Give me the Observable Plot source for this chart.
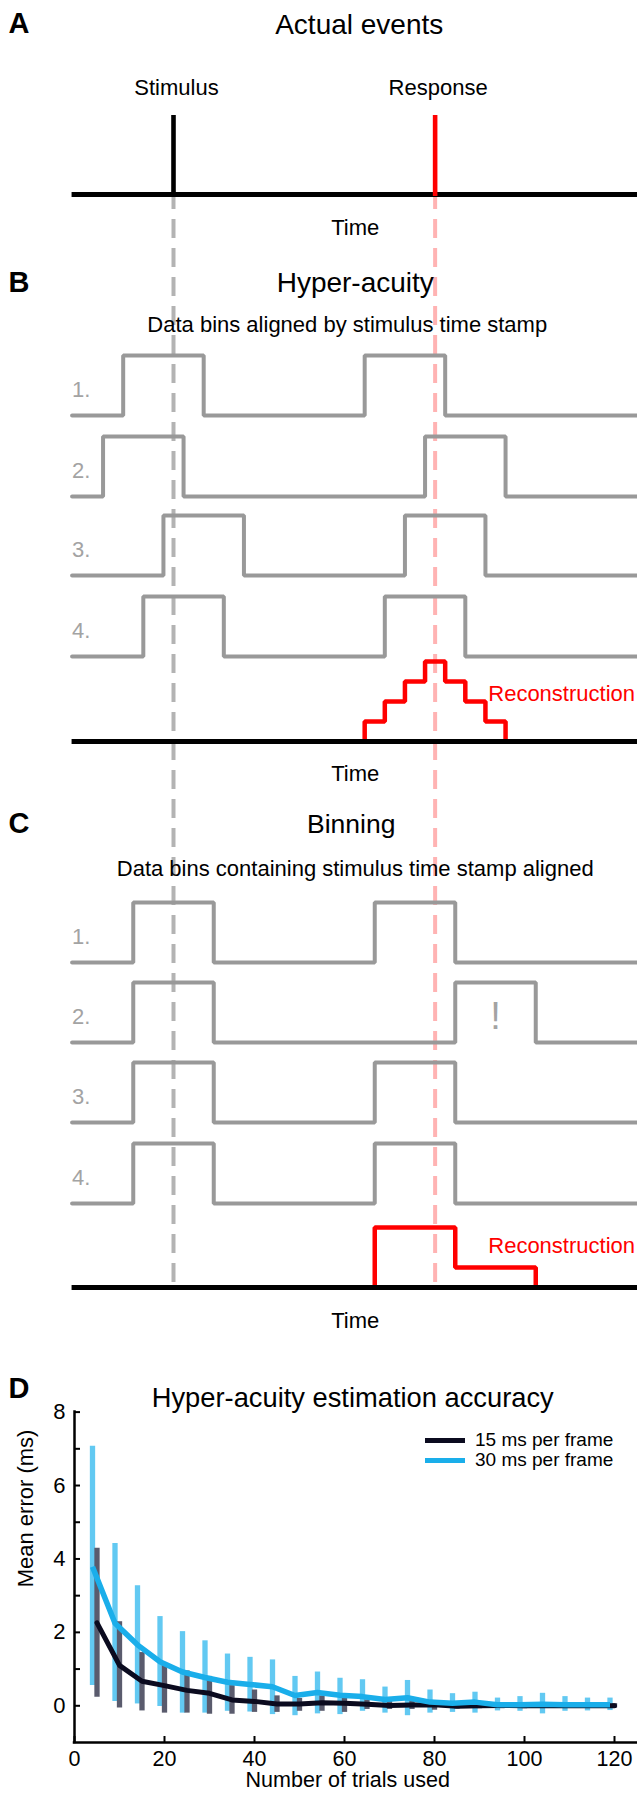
<!DOCTYPE html>
<html><head><meta charset="utf-8">
<script src="https://cdn.jsdelivr.net/npm/d3@7"></script>
<script src="https://cdn.jsdelivr.net/npm/@observablehq/plot@0.6"></script>
<style>
body{margin:0;background:#fff;}
#fig{position:relative;width:637px;height:1793px;overflow:hidden;font-family:"Liberation Sans",Arial,Helvetica,sans-serif;background:#fff;}
#fig svg{display:block;}
#topPanel{position:absolute;left:0;top:0;}
#bottomPanel{position:absolute;left:0;top:1330px;}
#legend{position:absolute;left:425px;top:1430px;font-size:19px;color:#000;}
.lrow{display:flex;align-items:center;height:20px;line-height:20px;white-space:nowrap;}
.sw{display:inline-block;width:40px;height:5px;margin-right:10px;}
</style></head>
<body><div id="fig"><div id="topPanel"></div><div id="bottomPanel"></div><div id="legend"></div></div>
<script>
// ================= DATA =================
// Panels A-C (time in frames, stimulus time stamp = 0)
const eventNames = ["Stimulus", "Response"];
const eventTimes = [0, 3.25];
const timeExtent = [-1.26, 5.8];
const trialLabels = ["1.", "2.", "3.", "4."];
// high data bins [start, end] per trial
const hyperBins = [
  [[-0.625, 0.375], [2.375, 3.375]],
  [[-0.875, 0.125], [3.125, 4.125]],
  [[-0.125, 0.875], [2.875, 3.875]],
  [[-0.375, 0.625], [2.625, 3.625]]
];
const binningBins = [
  [[-0.5, 0.5], [2.5, 3.5]],
  [[-0.5, 0.5], [3.5, 4.5]],
  [[-0.5, 0.5], [2.5, 3.5]],
  [[-0.5, 0.5], [2.5, 3.5]]
];
const hyperReconT     = [2.375, 2.375, 2.625, 2.875, 3.125, 3.375, 3.625, 3.875, 4.125];
const hyperReconCount = [0, 1, 2, 3, 4, 3, 2, 1, 0];
const binReconT       = [2.5, 2.5, 3.5, 4.5];
const binReconCount   = [0, 3, 1, 0];
const panelLetters = ["A", "B", "C", "D"];
const panelTitles = ["Actual events", "Hyper-acuity", "Binning", "Hyper-acuity estimation accuracy"];
const panelSubtitles = ["Data bins aligned by stimulus time stamp", "Data bins containing stimulus time stamp aligned"];
const timeLabel = "Time";
const reconLabel = "Reconstruction";
const warnLabel = "!";

// Panel D
const trials = [5,10,15,20,25,30,35,40,45,50,55,60,65,70,75,80,85,90,95,100,105,110,115,120];
const mean15 = [2.26,1.10,0.67,0.55,0.42,0.34,0.16,0.12,0.05,0.05,0.08,0.07,0.04,0.01,0.02,0.03,-0.01,0.00,0.01,0.00,0.00,0.00,0.00,0.00];
const lo15   = [0.23,-0.06,-0.14,-0.20,-0.20,-0.23,-0.23,-0.18,-0.18,-0.15,-0.15,-0.18,-0.10,-0.10,-0.10,-0.12,-0.09,-0.08,-0.08,-0.08,-0.07,-0.07,-0.06,-0.06];
const hi15   = [4.29,2.29,1.45,1.15,0.95,0.80,0.55,0.43,0.27,0.20,0.27,0.20,0.16,0.12,0.12,0.12,0.08,0.08,0.08,0.07,0.07,0.06,0.06,0.06];
const mean30 = [3.79,2.25,1.66,1.20,0.92,0.77,0.64,0.58,0.52,0.28,0.36,0.29,0.25,0.17,0.22,0.10,0.07,0.10,0.03,0.03,0.04,0.03,0.03,0.03];
const lo30   = [0.55,0.12,0.05,-0.02,-0.20,-0.20,-0.15,-0.17,-0.24,-0.27,-0.22,-0.24,-0.15,-0.20,-0.27,-0.20,-0.18,-0.20,-0.14,-0.15,-0.22,-0.15,-0.14,-0.13];
const hi30   = [7.07,4.42,3.27,2.43,2.02,1.77,1.41,1.32,1.25,0.80,0.92,0.75,0.71,0.51,0.69,0.43,0.33,0.37,0.21,0.25,0.34,0.25,0.21,0.21];
const seriesNames = ["15 ms per frame", "30 ms per frame"];
const xTicks = [0,20,40,60,80,100,120];
const yTicks = [0,2,4,6,8];
const yTickMarks = [0,1,2,3,4,5,6,7,8];
const xLabel = "Number of trials used";
const yLabel = "Mean error (ms)";

// ================= LAYOUT / STYLE =================
const FONT = '"Liberation Sans", Arial, Helvetica, sans-serif';
const W = 637, H1 = 1345, H2 = 463;
const STIM_PX = 173, BIN_PX = 80.5;
const L = {
  aAxis: 194, markerTop: 115, dashTop: 190, dashBottom: 1287,
  bRows: [415, 496, 575, 656], bRecon: 741,
  cRows: [962, 1042, 1122, 1203], cRecon: 1287,
  amp: 60, step: 20,
  letterY: [23, 282, 823],
  titleY: [25, 283, 824], titleDx: [3, -1, -5], titleSize: [28, 28, 26.5],
  subY: [324, 868], subDx: [-9, -1],
  eventY: 87.5, timeY: [227.5, 773, 1320],
  reconY: [693, 1245.5], reconT: 3.91, warnT: 4.0, warnY: 1016
};
const GRAY = "#999999", LABELGRAY = "#a3a3a3";
const DASH = ["#b3b3b3", "#ffb3b3"];
const MARK = ["#000000", "#ff0000"];
const C15 = "#0b0b1f", C15BAR = "#5a5b6d", C30 = "#1aaeea", C30BAR = "#62c9f2";
const offset30 = -1; // horizontal jitter of the 30 ms series

// ================= PANELS A-C =================
const tMid = (timeExtent[0] + timeExtent[1]) / 2;
function wave(bins, base, id) {
  const pts = [{t: timeExtent[0], y: base, id}];
  for (const [on, off] of bins) {
    pts.push({t: on, y: base - L.amp, id});
    pts.push({t: off, y: base, id});
  }
  pts.push({t: timeExtent[1], y: base, id});
  return pts;
}
const rowData = [
  ...hyperBins.flatMap((b, i) => wave(b, L.bRows[i], "B" + i)),
  ...binningBins.flatMap((b, i) => wave(b, L.cRows[i], "C" + i))
];
const reconData = [
  ...hyperReconT.map((t, i) => ({t, y: L.bRecon - hyperReconCount[i] * L.step, id: "B"})),
  ...binReconT.map((t, i) => ({t, y: L.cRecon - binReconCount[i] * L.step, id: "C"}))
];
const rowLabelData = [
  ...trialLabels.map((s, i) => ({s, y: L.bRows[i] - 26})),
  ...trialLabels.map((s, i) => ({s, y: L.cRows[i] - 26}))
];
const titleData = panelTitles.slice(0, 3).map((s, i) => ({s, y: L.titleY[i], dx: L.titleDx[i], size: L.titleSize[i]}));

const topPlot = Plot.plot({
  width: W, height: H1, margin: 0,
  x: {domain: [-STIM_PX / BIN_PX, (W - STIM_PX) / BIN_PX], axis: null},
  y: {domain: [0, H1], range: [0, H1], axis: null},
  style: {fontFamily: FONT, fontSize: "22px", background: "none", color: "black", overflow: "visible"},
  marks: [
    ...eventTimes.map((t, i) => Plot.ruleX([t], {y1: L.dashTop, y2: L.dashBottom, stroke: DASH[i], strokeWidth: 4, strokeDasharray: "19,10"})),
    Plot.line(rowData, {x: "t", y: "y", z: "id", curve: "step-after", stroke: GRAY, strokeWidth: 4, strokeLinejoin: "miter"}),
    Plot.line(reconData, {x: "t", y: "y", z: "id", curve: "step-after", stroke: "#ff0000", strokeWidth: 4.5, strokeLinejoin: "miter"}),
    Plot.ruleY([L.aAxis, L.bRecon, L.cRecon], {x1: timeExtent[0], x2: timeExtent[1], stroke: "black", strokeWidth: 5}),
    ...eventTimes.map((t, i) => Plot.ruleX([t], {y1: L.markerTop, y2: L.aAxis + 2, stroke: MARK[i], strokeWidth: 4.6})),
    Plot.text(eventNames, {x: (d, i) => eventTimes[i], y: L.eventY, text: d => d, dx: 3, fontSize: 22}),
    Plot.text(panelLetters.slice(0, 3), {frameAnchor: "left", y: (d, i) => L.letterY[i], text: d => d, dx: 8, textAnchor: "start", fontSize: 29, fontWeight: "bold"}),
    ...titleData.map(d => Plot.text([d], {x: tMid, y: "y", text: "s", dx: d.dx, fontSize: d.size})),
    ...panelSubtitles.map((s, i) => Plot.text([s], {x: tMid, y: L.subY[i], text: d => d, dx: L.subDx[i], fontSize: 22})),
    Plot.text([timeLabel, timeLabel, timeLabel], {x: tMid, y: (d, i) => L.timeY[i], text: d => d, dx: -1, fontSize: 22}),
    Plot.text(rowLabelData, {x: timeExtent[0], y: "y", text: "s", dx: 0, textAnchor: "start", fill: LABELGRAY, fontSize: 22}),
    Plot.text([reconLabel, reconLabel], {x: L.reconT, y: (d, i) => L.reconY[i], text: d => d, textAnchor: "start", fill: "#ff0000", fontSize: 22}),
    Plot.text([warnLabel], {x: L.warnT, y: L.warnY, text: d => d, fill: LABELGRAY, fontSize: 38})
  ]
});
document.getElementById("topPanel").appendChild(topPlot);

// ================= PANEL D =================
const s15 = trials.map((n, i) => ({x: n, mean: mean15[i], lo: lo15[i], hi: hi15[i]}));
const s30 = trials.map((n, i) => ({x: n + offset30, mean: mean30[i], lo: lo30[i], hi: hi30[i]}));
const mL = 74, mT = 81.6, mB = 51;
const bottomPlot = Plot.plot({
  width: W, height: H2,
  marginLeft: mL, marginRight: 0.5, marginTop: mT, marginBottom: mB,
  x: {domain: [0, 125], axis: null, label: null},
  y: {domain: [-1, 8], axis: null, label: null},
  style: {fontFamily: FONT, fontSize: "22px", background: "none", color: "black"},
  marks: [
    Plot.ruleX(s30, {x: "x", y1: "lo", y2: "hi", stroke: C30BAR, strokeWidth: 5.3}),
    Plot.ruleX(s15, {x: "x", y1: "lo", y2: "hi", stroke: C15BAR, strokeWidth: 5.3}),
    Plot.line(s15, {x: "x", y: "mean", stroke: C15, strokeWidth: 5, strokeLinejoin: "round", strokeLinecap: "round"}),
    Plot.line(s30, {x: "x", y: "mean", stroke: C30, strokeWidth: 5.5, strokeLinejoin: "round", strokeLinecap: "butt"}),
    Plot.ruleX([0], {y1: -1, y2: 8, stroke: "black", strokeWidth: 2.5, strokeLinecap: "square"}),
    Plot.ruleY([-1], {x1: 0, x2: 125, stroke: "black", strokeWidth: 2.5, strokeLinecap: "square"}),
    Plot.axisX({ticks: xTicks, tickSize: -6, strokeWidth: 2, fill: "none", tickFormat: () => "", label: null}),
    Plot.axisY({ticks: yTickMarks, tickSize: -6, strokeWidth: 2, fill: "none", tickFormat: () => "", label: null}),
    Plot.axisX({ticks: xTicks, tickSize: 0, tickPadding: 8, fontSize: 21.5, label: null}),
    Plot.axisY({ticks: yTicks, tickSize: 0, tickPadding: 9, fontSize: 22, label: null}),
    Plot.text([yLabel], {frameAnchor: "left", text: d => d, rotate: -90, dx: 25 - mL, dy: 10, fontSize: 22}),
    Plot.text([xLabel], {frameAnchor: "bottom", text: d => d, dx: -8, dy: 44, fontSize: 21.5}),
    Plot.text([panelTitles[3]], {frameAnchor: "top", text: d => d, dx: -3, dy: 56.7 - mT, fontSize: 27.3}),
    Plot.text([panelLetters[3]], {frameAnchor: "top-left", text: d => d, dx: 8 - mL, dy: 47 - mT, textAnchor: "start", fontSize: 29, fontWeight: "bold"})
  ]
});
document.getElementById("bottomPanel").appendChild(bottomPlot);

// legend
const legendEl = document.getElementById("legend");
[C15, C30].forEach((c, i) => {
  const row = document.createElement("div");
  row.className = "lrow";
  const sw = document.createElement("span");
  sw.className = "sw";
  sw.style.background = c;
  row.appendChild(sw);
  row.appendChild(document.createTextNode(seriesNames[i]));
  legendEl.appendChild(row);
});
</script></body></html>
